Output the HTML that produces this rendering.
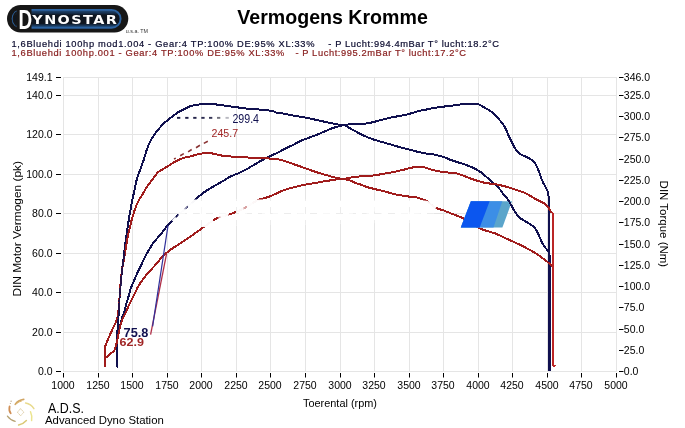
<!DOCTYPE html><html><head><meta charset="utf-8"><title>Vermogens Kromme</title><style>html,body{margin:0;padding:0;background:#fff;width:685px;height:428px;overflow:hidden}svg{display:block}text{font-family:"Liberation Sans",Arial,sans-serif}</style></head><body><svg width="685" height="428" viewBox="0 0 685 428"><rect width="685" height="428" fill="#fff"/><g><rect x="7" y="5" width="121.3" height="27.5" rx="13.75" fill="#171717"/><linearGradient id="lg" gradientUnits="userSpaceOnUse" x1="0" y1="9" x2="0" y2="29"><stop offset="0" stop-color="#25548a"/><stop offset="0.12" stop-color="#1d4068"/><stop offset="0.22" stop-color="#152b46"/><stop offset="0.3" stop-color="#0f1620"/><stop offset="0.72" stop-color="#0f1620"/><stop offset="0.82" stop-color="#183556"/><stop offset="0.92" stop-color="#22507f"/><stop offset="1" stop-color="#25548a"/></linearGradient><rect x="12.6" y="9.9" width="108" height="17.8" rx="8.9" fill="url(#lg)" stroke="#2b62a0" stroke-width="1.9"/><rect x="16.5" y="6.5" width="15" height="24.5" fill="#171717"/><path d="M16.5 12 A9 9 0 0 0 16.5 25.6" fill="none" stroke="#171717" stroke-width="1.5"/><text transform="translate(18.4 29.3) scale(0.68 1)" font-size="27.8" font-weight="bold" fill="#fff">D</text><text x="32.3" y="24" font-size="12" font-weight="bold" fill="#fff" style="font-family:DejaVu Sans,sans-serif" letter-spacing="1.2" textLength="86" lengthAdjust="spacingAndGlyphs">YNOSTAR</text><text x="125.8" y="33" font-size="6" fill="#333" textLength="22.3" lengthAdjust="spacingAndGlyphs">u.s.a. TM</text></g><text x="237.3" y="23.9" font-size="20.5" font-weight="bold" fill="#000" textLength="190.5" lengthAdjust="spacingAndGlyphs">Vermogens Kromme</text><text x="11.5" y="46.9" font-size="9.3" fill="#0c0c30" stroke="#0c0c30" stroke-width="0.2" textLength="303" lengthAdjust="spacing">1,6Bluehdi 100hp mod1.004 - Gear:4 TP:100% DE:95% XL:33%</text><text x="328.3" y="46.9" font-size="9.3" fill="#0c0c30" stroke="#0c0c30" stroke-width="0.2" textLength="170.7" lengthAdjust="spacing">- P Lucht:994.4mBar T° lucht:18.2°C</text><text x="11.5" y="55.6" font-size="9.3" fill="#8a2222" stroke="#8a2222" stroke-width="0.2" textLength="272.9" lengthAdjust="spacing">1,6Bluehdi 100hp.001 - Gear:4 TP:100% DE:95% XL:33%</text><text x="295.4" y="55.6" font-size="9.3" fill="#8a2222" stroke="#8a2222" stroke-width="0.2" textLength="170.6" lengthAdjust="spacing">- P Lucht:995.2mBar T° lucht:17.2°C</text><path d="M63.5 77V372 M98.5 77V372 M132.5 77V372 M167.5 77V372 M201.5 77V372 M236.5 77V372 M270.5 77V372 M305.5 77V372 M340.5 77V372 M374.5 77V372 M409.5 77V372 M443.5 77V372 M478.5 77V372 M512.5 77V372 M547.5 77V372 M581.5 77V372 M616.5 77V372 M63 77.5H617 M63 95.5H617 M63 134.5H617 M63 174.5H617 M63 213.5H617 M63 253.5H617 M63 292.5H617 M63 332.5H617 M63 371.5H617" stroke="#e5e5e5" stroke-width="1" fill="none"/><path d="M63.5 373V377.5 M98.5 373V377.5 M132.5 373V377.5 M167.5 373V377.5 M201.5 373V377.5 M236.5 373V377.5 M270.5 373V377.5 M305.5 373V377.5 M340.5 373V377.5 M374.5 373V377.5 M409.5 373V377.5 M443.5 373V377.5 M478.5 373V377.5 M512.5 373V377.5 M547.5 373V377.5 M581.5 373V377.5 M616.5 373V377.5 M56 77.5H61 M56 95.5H61 M56 134.5H61 M56 174.5H61 M56 213.5H61 M56 253.5H61 M56 292.5H61 M56 332.5H61 M56 371.5H61 M619 77.5H623.5 M619 95.5H623.5 M619 116.5H623.5 M619 137.5H623.5 M619 159.5H623.5 M619 180.5H623.5 M619 201.5H623.5 M619 222.5H623.5 M619 244.5H623.5 M619 265.5H623.5 M619 286.5H623.5 M619 307.5H623.5 M619 329.5H623.5 M619 350.5H623.5 M619 371.5H623.5" stroke="#000" stroke-width="1" fill="none"/><g font-size="10.5" fill="#000"><text x="52.5" y="81.3" text-anchor="end">149.1</text><text x="52.5" y="99.3" text-anchor="end">140.0</text><text x="52.5" y="138.3" text-anchor="end">120.0</text><text x="52.5" y="178.3" text-anchor="end">100.0</text><text x="52.5" y="217.3" text-anchor="end">80.0</text><text x="52.5" y="257.3" text-anchor="end">60.0</text><text x="52.5" y="296.3" text-anchor="end">40.0</text><text x="52.5" y="336.3" text-anchor="end">20.0</text><text x="52.5" y="375.3" text-anchor="end">0.0</text><text x="623.8" y="81.3">346.0</text><text x="623.8" y="99.3">325.0</text><text x="623.8" y="120.3">300.0</text><text x="623.8" y="141.3">275.0</text><text x="623.8" y="163.3">250.0</text><text x="623.8" y="184.3">225.0</text><text x="623.8" y="205.3">200.0</text><text x="623.8" y="226.3">175.0</text><text x="623.8" y="248.3">150.0</text><text x="623.8" y="269.3">125.0</text><text x="623.8" y="290.3">100.0</text><text x="623.8" y="311.3">75.0</text><text x="623.8" y="333.3">50.0</text><text x="623.8" y="354.3">25.0</text><text x="623.8" y="375.3">0.0</text><text x="63.0" y="388.6" text-anchor="middle">1000</text><text x="98.0" y="388.6" text-anchor="middle">1250</text><text x="132.0" y="388.6" text-anchor="middle">1500</text><text x="167.0" y="388.6" text-anchor="middle">1750</text><text x="201.0" y="388.6" text-anchor="middle">2000</text><text x="236.0" y="388.6" text-anchor="middle">2250</text><text x="270.0" y="388.6" text-anchor="middle">2500</text><text x="305.0" y="388.6" text-anchor="middle">2750</text><text x="340.0" y="388.6" text-anchor="middle">3000</text><text x="374.0" y="388.6" text-anchor="middle">3250</text><text x="409.0" y="388.6" text-anchor="middle">3500</text><text x="443.0" y="388.6" text-anchor="middle">3750</text><text x="478.0" y="388.6" text-anchor="middle">4000</text><text x="512.0" y="388.6" text-anchor="middle">4250</text><text x="547.0" y="388.6" text-anchor="middle">4500</text><text x="581.0" y="388.6" text-anchor="middle">4750</text><text x="616.0" y="388.6" text-anchor="middle">5000</text></g><text x="303" y="407" font-size="10.5" fill="#000" textLength="74" lengthAdjust="spacingAndGlyphs">Toerental (rpm)</text><text transform="translate(21 296.6) rotate(-90)" font-size="10.5" fill="#000" textLength="135.6" lengthAdjust="spacingAndGlyphs">DIN Motor Vermogen (pk)</text><text transform="translate(660 180.6) rotate(90)" font-size="10.5" fill="#000" textLength="86.6" lengthAdjust="spacingAndGlyphs">DIN Torque (Nm)</text><g fill="none" stroke-width="2" stroke-linejoin="round" stroke-linecap="round" shape-rendering="crispEdges"><path d="M117.40 366.60 L117.40 332.00 L119.50 328.50 C119.92 326.75 121.18 320.78 122.00 318.00 C122.82 315.22 123.72 314.00 124.40 311.80 C125.08 309.60 125.42 307.33 126.10 304.80 C126.78 302.27 127.72 299.33 128.50 296.60 C129.28 293.87 129.93 290.93 130.80 288.40 C131.67 285.87 132.63 283.93 133.70 281.40 C134.77 278.87 135.93 275.93 137.20 273.20 C138.47 270.47 140.23 267.22 141.30 265.00 C142.37 262.78 142.60 261.93 143.60 259.90 C144.60 257.87 145.75 255.55 147.30 252.80 C148.85 250.05 151.62 245.40 152.90 243.40 C154.18 241.40 153.72 242.32 155.00 240.80 C156.28 239.28 158.42 236.95 160.60 234.30 C162.78 231.65 165.92 227.40 168.10 224.90 C170.28 222.40 172.15 220.85 173.70 219.30 C175.25 217.75 175.53 217.32 177.40 215.60 C179.27 213.88 182.08 211.50 184.90 209.00 C187.72 206.50 191.55 203.05 194.30 200.60 C197.05 198.15 199.15 196.10 201.40 194.30 C203.65 192.50 205.45 191.30 207.80 189.80 C210.15 188.30 212.92 186.80 215.50 185.30 C218.08 183.80 220.72 182.30 223.30 180.80 C225.88 179.30 228.43 177.58 231.00 176.30 C233.57 175.02 236.13 174.27 238.70 173.10 C241.27 171.93 243.83 170.68 246.40 169.30 C248.97 167.92 251.53 166.30 254.10 164.80 C256.67 163.30 259.23 161.70 261.80 160.30 C264.37 158.90 267.30 157.47 269.50 156.40 C271.70 155.33 272.57 155.08 275.00 153.90 C277.43 152.72 281.07 150.82 284.10 149.30 C287.13 147.78 290.17 146.32 293.20 144.80 C296.23 143.28 298.75 141.72 302.30 140.20 C305.85 138.68 310.95 137.08 314.50 135.70 C318.05 134.32 320.57 133.17 323.60 131.90 C326.63 130.63 329.92 129.12 332.70 128.10 C335.48 127.08 338.03 126.37 340.30 125.80 C342.57 125.23 343.85 125.03 346.30 124.70 C348.75 124.37 351.65 124.00 355.00 123.80 C358.35 123.60 363.15 123.83 366.40 123.50 C369.65 123.17 371.78 122.45 374.50 121.80 C377.22 121.15 379.70 120.37 382.70 119.60 C385.70 118.83 389.22 117.88 392.50 117.20 C395.78 116.52 399.12 116.18 402.40 115.50 C405.68 114.82 409.22 113.92 412.20 113.10 C415.18 112.28 418.17 111.15 420.30 110.60 C422.43 110.05 422.58 110.27 425.00 109.80 C427.42 109.33 431.53 108.35 434.80 107.80 C438.07 107.25 441.33 106.92 444.60 106.50 C447.87 106.08 451.12 105.72 454.40 105.30 C457.68 104.88 461.02 104.28 464.30 104.00 C467.58 103.72 471.73 103.53 474.10 103.60 C476.47 103.67 476.60 103.65 478.50 104.40 C480.40 105.15 483.23 106.80 485.50 108.10 C487.77 109.40 490.18 110.70 492.10 112.20 C494.02 113.70 495.37 115.33 497.00 117.10 C498.63 118.87 500.57 121.12 501.90 122.80 C503.23 124.48 503.93 125.17 505.00 127.20 C506.07 129.23 507.20 132.60 508.30 135.00 C509.40 137.40 510.48 139.38 511.60 141.60 C512.72 143.82 513.88 146.45 515.00 148.30 C516.12 150.15 517.02 151.52 518.30 152.70 C519.58 153.88 521.03 154.55 522.70 155.40 C524.37 156.25 526.45 156.77 528.30 157.80 C530.15 158.83 532.33 160.05 533.80 161.60 C535.27 163.15 536.17 165.25 537.10 167.10 C538.03 168.95 538.65 170.67 539.40 172.70 C540.15 174.73 540.68 177.08 541.60 179.30 C542.52 181.52 543.87 183.97 544.90 186.00 C545.93 188.03 547.13 189.28 547.80 191.50 C548.47 193.72 548.72 198.00 548.90 199.30 L548.90 370.50" stroke="#10104f"/><path d="M117.40 366.60 L117.40 332.00 L118.50 316.90 C118.65 314.08 119.10 305.03 119.40 300.00 C119.70 294.97 119.85 291.72 120.30 286.70 C120.75 281.68 121.48 275.18 122.10 269.90 C122.72 264.62 123.47 259.42 124.00 255.00 C124.53 250.58 124.77 247.50 125.30 243.40 C125.83 239.30 126.55 234.75 127.20 230.40 C127.85 226.05 128.48 221.65 129.20 217.30 C129.92 212.95 130.67 208.63 131.50 204.30 C132.33 199.97 133.28 195.58 134.20 191.30 C135.12 187.02 135.95 182.35 137.00 178.60 C138.05 174.85 139.33 172.07 140.50 168.80 C141.67 165.53 142.93 162.25 144.00 159.00 C145.07 155.75 145.80 152.33 146.90 149.30 C148.00 146.27 149.37 143.22 150.60 140.80 C151.83 138.38 152.90 136.82 154.30 134.80 C155.70 132.78 157.43 130.57 159.00 128.70 C160.57 126.83 162.30 125.00 163.70 123.60 C165.10 122.20 165.85 121.55 167.40 120.30 C168.95 119.05 171.13 117.50 173.00 116.10 C174.87 114.70 176.85 112.98 178.60 111.90 C180.35 110.82 181.40 110.60 183.50 109.60 C185.60 108.60 188.63 106.73 191.20 105.90 C193.77 105.07 196.53 104.97 198.90 104.60 C201.27 104.23 202.48 103.72 205.40 103.70 C208.32 103.68 213.22 104.18 216.40 104.50 C219.58 104.82 221.78 105.22 224.50 105.60 C227.22 105.98 229.97 106.43 232.70 106.80 C235.43 107.17 238.17 107.45 240.90 107.80 C243.63 108.15 246.37 108.63 249.10 108.90 C251.83 109.17 254.58 109.20 257.30 109.40 C260.02 109.60 262.95 109.85 265.40 110.10 C267.85 110.35 270.08 110.47 272.00 110.90 C273.92 111.33 274.88 112.23 276.90 112.70 C278.92 113.17 281.38 113.22 284.10 113.70 C286.82 114.18 289.65 114.97 293.20 115.60 C296.75 116.23 301.35 116.73 305.40 117.50 C309.45 118.27 313.47 119.32 317.50 120.20 C321.53 121.08 326.05 122.05 329.60 122.80 C333.15 123.55 336.27 124.25 338.80 124.70 C341.33 125.15 342.78 124.82 344.80 125.50 C346.82 126.18 348.95 127.73 350.90 128.80 C352.85 129.87 353.92 130.57 356.50 131.90 C359.08 133.23 363.40 135.48 366.40 136.80 C369.40 138.12 371.78 138.90 374.50 139.80 C377.22 140.70 379.70 141.33 382.70 142.20 C385.70 143.07 389.22 144.05 392.50 145.00 C395.78 145.95 399.12 147.00 402.40 147.90 C405.68 148.80 409.22 149.65 412.20 150.40 C415.18 151.15 417.58 151.80 420.30 152.40 C423.02 153.00 426.08 153.62 428.50 154.00 C430.92 154.38 432.12 154.13 434.80 154.70 C437.48 155.27 441.78 156.47 444.60 157.40 C447.42 158.33 448.58 159.20 451.70 160.30 C454.82 161.40 459.80 162.80 463.30 164.00 C466.80 165.20 469.78 166.13 472.70 167.50 C475.62 168.87 478.08 170.25 480.80 172.20 C483.52 174.15 486.08 176.65 489.00 179.20 C491.92 181.75 495.93 185.07 498.30 187.50 C500.67 189.93 501.57 191.77 503.20 193.80 C504.83 195.83 506.67 197.63 508.10 199.70 C509.53 201.77 510.57 204.03 511.80 206.20 C513.03 208.37 514.25 210.83 515.50 212.70 C516.75 214.57 517.73 216.00 519.30 217.40 C520.87 218.80 522.88 219.85 524.90 221.10 C526.92 222.35 529.68 223.65 531.40 224.90 C533.12 226.15 534.10 227.20 535.20 228.60 C536.30 230.00 537.07 231.43 538.00 233.30 C538.93 235.17 539.87 237.78 540.80 239.80 C541.73 241.82 542.52 243.68 543.60 245.40 C544.68 247.12 546.37 248.83 547.30 250.10 C548.23 251.37 548.88 252.52 549.20 253.00 L549.90 258.00 L549.90 370.50" stroke="#10104f"/><path d="M105.10 358.20 L114.30 350.60 L116.90 342.20 C117.17 340.78 117.90 336.57 118.50 333.70 C119.10 330.83 119.75 327.62 120.50 325.00 C121.25 322.38 122.07 320.20 123.00 318.00 C123.93 315.80 125.18 313.82 126.10 311.80 C127.02 309.78 127.62 307.85 128.50 305.90 C129.38 303.95 130.33 302.23 131.40 300.10 C132.47 297.97 133.73 295.43 134.90 293.10 C136.07 290.77 137.03 288.45 138.40 286.10 C139.77 283.75 141.35 281.35 143.10 279.00 C144.85 276.65 146.95 274.23 148.90 272.00 C150.85 269.77 152.53 268.15 154.80 265.60 C157.07 263.05 159.97 259.28 162.50 256.70 C165.03 254.12 166.88 252.43 170.00 250.10 C173.12 247.77 177.47 245.18 181.20 242.70 C184.93 240.22 188.35 238.02 192.40 235.20 C196.45 232.38 201.77 228.45 205.50 225.80 C209.23 223.15 212.05 220.85 214.80 219.30 C217.55 217.75 219.20 217.43 222.00 216.50 C224.80 215.57 227.77 215.15 231.60 213.70 C235.43 212.25 240.65 210.05 245.00 207.80 C249.35 205.55 253.53 202.10 257.70 200.20 C261.87 198.30 265.95 197.95 270.00 196.40 C274.05 194.85 278.83 192.22 282.00 190.90 C285.17 189.58 286.67 189.18 289.00 188.50 C291.33 187.82 293.67 187.38 296.00 186.80 C298.33 186.22 300.67 185.48 303.00 185.00 C305.33 184.52 307.67 184.28 310.00 183.90 C312.33 183.52 314.65 183.13 317.00 182.70 C319.35 182.27 321.75 181.70 324.10 181.30 C326.45 180.90 328.77 180.65 331.10 180.30 C333.43 179.95 335.77 179.48 338.10 179.20 C340.43 178.92 343.12 178.87 345.10 178.60 C347.08 178.33 348.02 177.92 350.00 177.60 C351.98 177.28 354.08 177.00 357.00 176.70 C359.92 176.40 364.38 176.03 367.50 175.80 C370.62 175.57 373.17 175.63 375.70 175.30 C378.23 174.97 380.17 174.25 382.70 173.80 C385.23 173.35 388.18 173.10 390.90 172.60 C393.62 172.10 396.47 171.38 399.00 170.80 C401.53 170.22 403.95 169.63 406.10 169.10 C408.25 168.57 409.97 167.98 411.90 167.60 C413.83 167.22 415.75 166.88 417.70 166.80 C419.65 166.72 421.55 166.72 423.60 167.10 C425.65 167.48 428.22 168.57 430.00 169.10 C431.78 169.63 432.02 169.80 434.30 170.30 C436.58 170.80 439.95 171.57 443.70 172.10 C447.45 172.63 453.07 172.72 456.80 173.50 C460.53 174.28 463.30 175.78 466.10 176.80 C468.90 177.82 470.80 178.67 473.60 179.60 C476.40 180.53 479.78 181.68 482.90 182.40 C486.02 183.12 490.28 183.63 492.30 183.90 C494.32 184.17 492.88 183.58 495.00 184.00 C497.12 184.42 501.93 185.57 505.00 186.40 C508.07 187.23 510.73 188.15 513.40 189.00 C516.07 189.85 518.90 190.77 521.00 191.50 C523.10 192.23 523.77 192.25 526.00 193.40 C528.23 194.55 532.17 197.13 534.40 198.40 C536.63 199.67 537.65 200.12 539.40 201.00 C541.15 201.88 543.43 202.68 544.90 203.70 C546.37 204.72 547.33 205.97 548.20 207.10 C549.07 208.23 549.78 209.93 550.10 210.50 L551.50 212.20 L552.50 213.00 L552.60 365.50" stroke="#a01c1c"/><path d="M105.10 366.60 L105.10 346.40 L109.30 336.30 C110.00 334.75 112.23 329.82 113.50 327.00 C114.77 324.18 116.07 322.22 116.90 319.40 C117.73 316.58 118.08 313.33 118.50 310.10 C118.92 306.87 119.10 303.90 119.40 300.00 C119.70 296.10 119.85 291.72 120.30 286.70 C120.75 281.68 121.38 275.10 122.10 269.90 C122.82 264.70 124.02 258.90 124.60 255.50 C125.18 252.10 125.17 252.13 125.60 249.50 C126.03 246.87 126.53 243.20 127.20 239.70 C127.87 236.20 128.73 232.23 129.60 228.50 C130.47 224.77 131.32 221.03 132.40 217.30 C133.48 213.57 135.10 208.82 136.10 206.10 C137.10 203.38 137.32 203.00 138.40 201.00 C139.48 199.00 141.20 196.42 142.60 194.10 C144.00 191.78 145.40 189.20 146.80 187.10 C148.20 185.00 149.60 183.38 151.00 181.50 C152.40 179.62 154.03 177.33 155.20 175.80 C156.37 174.27 156.60 173.47 158.00 172.30 C159.40 171.13 161.72 169.97 163.60 168.80 C165.48 167.63 167.42 166.47 169.30 165.30 C171.18 164.13 173.03 162.85 174.90 161.80 C176.77 160.75 178.63 159.75 180.50 159.00 C182.37 158.25 184.52 157.72 186.10 157.30 C187.68 156.88 188.52 156.87 190.00 156.50 C191.48 156.13 193.10 155.58 195.00 155.10 C196.90 154.62 199.27 153.98 201.40 153.60 C203.53 153.22 205.65 152.75 207.80 152.80 C209.95 152.85 212.15 153.47 214.30 153.90 C216.45 154.33 217.50 154.93 220.70 155.40 C223.90 155.87 229.22 156.37 233.50 156.70 C237.78 157.03 242.97 157.18 246.40 157.40 C249.83 157.62 251.12 157.85 254.10 158.00 C257.08 158.15 260.82 158.15 264.30 158.30 C267.78 158.45 272.25 158.63 275.00 158.90 C277.75 159.17 278.85 159.43 280.80 159.90 C282.75 160.37 284.75 161.05 286.70 161.70 C288.65 162.35 290.55 163.12 292.50 163.80 C294.45 164.48 296.25 165.05 298.40 165.80 C300.55 166.55 303.07 167.47 305.40 168.30 C307.73 169.13 310.07 170.00 312.40 170.80 C314.73 171.60 317.07 172.38 319.40 173.10 C321.73 173.82 324.07 174.42 326.40 175.10 C328.73 175.78 331.45 176.67 333.40 177.20 C335.35 177.73 336.15 177.95 338.10 178.30 C340.05 178.65 343.12 178.93 345.10 179.30 C347.08 179.67 348.22 179.87 350.00 180.50 C351.78 181.13 353.85 182.37 355.80 183.10 C357.75 183.83 359.75 184.22 361.70 184.90 C363.65 185.58 365.37 186.52 367.50 187.20 C369.63 187.88 372.17 188.42 374.50 189.00 C376.83 189.58 379.17 190.12 381.50 190.70 C383.83 191.28 386.35 191.92 388.50 192.50 C390.65 193.08 392.25 193.72 394.40 194.20 C396.55 194.68 399.07 195.02 401.40 195.40 C403.73 195.78 406.07 196.22 408.40 196.50 C410.73 196.78 413.45 196.75 415.40 197.10 C417.35 197.45 418.35 198.02 420.10 198.60 C421.85 199.18 424.17 199.70 425.90 200.60 C427.63 201.50 428.93 202.82 430.50 204.00 C432.07 205.18 433.10 206.62 435.30 207.70 C437.50 208.78 440.75 209.42 443.70 210.50 C446.65 211.58 449.88 212.97 453.00 214.20 C456.12 215.43 459.43 216.43 462.40 217.90 C465.37 219.37 468.00 221.28 470.80 223.00 C473.60 224.72 475.93 226.70 479.20 228.20 C482.47 229.70 487.77 231.15 490.40 232.00 C493.03 232.85 492.98 232.50 495.00 233.30 C497.02 234.10 499.83 235.57 502.50 236.80 C505.17 238.03 507.92 239.28 511.00 240.70 C514.08 242.12 517.83 243.75 521.00 245.30 C524.17 246.85 527.42 248.60 530.00 250.00 C532.58 251.40 534.45 252.38 536.50 253.70 C538.55 255.02 540.47 256.52 542.30 257.90 C544.13 259.28 546.05 260.78 547.50 262.00 C548.95 263.22 550.42 264.67 551.00 265.20 L552.50 266.50 L552.60 365.50 L554.60 365.50" stroke="#a01c1c"/><path d="M552.6 213V365.5H554.6" stroke="#bb2626"/><path d="M117.6 330 C118.3 318 119.2 305 119.6 298 S121.6 275 122.4 268 S124.2 255 124.6 251" stroke="#10104f" stroke-dasharray="2 2" opacity="0.85"/></g><line x1="166.6" y1="253.6" x2="150.6" y2="334.7" stroke="#b03048" stroke-width="1.3"/><line x1="168" y1="225.6" x2="152.6" y2="326.3" stroke="#30309a" stroke-width="1.2"/><rect x="177" y="116.9" width="3.3" height="1.9" fill="#1c1c44"/><rect x="185.2" y="116.9" width="3.3" height="1.9" fill="#1c1c44"/><rect x="193.2" y="116.9" width="3.3" height="1.9" fill="#24244a"/><rect x="201.3" y="116.9" width="3.3" height="1.9" fill="#2c2c50"/><rect x="209" y="116.9" width="3.3" height="1.9" fill="#363656"/><rect x="217" y="116.9" width="3.3" height="1.9" fill="#70707c"/><rect x="225.5" y="116.9" width="3.3" height="1.9" fill="#b8b8c0"/><path d="M174 159L175.8 158.1 M180.2 155.7L183.8 153.6 M188.1 151.8L191.7 149.5 M196 147.7L199.9 145.3 M203.8 143.4L207.8 141.3" stroke="#8a3434" stroke-width="1.6" fill="none"/><text x="232.4" y="122.8" font-size="12" fill="#10104f" textLength="26.6" lengthAdjust="spacingAndGlyphs">299.4</text><text x="211.5" y="136.8" font-size="11" fill="#a02525" textLength="26.6" lengthAdjust="spacingAndGlyphs">245.7</text><text x="123.6" y="336.8" font-size="12.4" font-weight="bold" fill="#10104f" textLength="24.8" lengthAdjust="spacingAndGlyphs">75.8</text><text x="119.6" y="346.2" font-size="11.4" font-weight="bold" fill="#a02525" textLength="24.4" lengthAdjust="spacingAndGlyphs">62.9</text><clipPath id="wm"><polygon points="191,199.5 257,199.5 424,200.5 428,201 436.5,206.5 430,222 300,224.5 240,225.5 207,227.5 176,222.5 171.5,220.5"/></clipPath><polygon points="191,199.5 257,199.5 424,200.5 428,201 436.5,206.5 430,222 300,224.5 240,225.5 207,227.5 176,222.5 171.5,220.5" fill="#fff" fill-opacity="0.97"/><path d="M63.5 77V372 M98.5 77V372 M132.5 77V372 M167.5 77V372 M201.5 77V372 M236.5 77V372 M270.5 77V372 M305.5 77V372 M340.5 77V372 M374.5 77V372 M409.5 77V372 M443.5 77V372 M478.5 77V372 M512.5 77V372 M547.5 77V372 M581.5 77V372 M616.5 77V372 M63 77.5H617 M63 95.5H617 M63 134.5H617 M63 174.5H617 M63 213.5H617 M63 253.5H617 M63 292.5H617 M63 332.5H617 M63 371.5H617" stroke="#ececec" stroke-width="1" fill="none" clip-path="url(#wm)" stroke-dasharray="7 6"/><clipPath id="peek"><rect x="213" y="216.5" width="7.5" height="5"/><rect x="228.5" y="211" width="7.5" height="6"/><rect x="243.5" y="205" width="3.5" height="4.5"/><rect x="175.5" y="214" width="3.5" height="3.5"/><rect x="184.3" y="205.8" width="3.5" height="3.5"/></clipPath><g clip-path="url(#peek)" fill="none" stroke-width="2" shape-rendering="crispEdges"><path d="M117.40 366.60 L117.40 332.00 L119.50 328.50 C119.92 326.75 121.18 320.78 122.00 318.00 C122.82 315.22 123.72 314.00 124.40 311.80 C125.08 309.60 125.42 307.33 126.10 304.80 C126.78 302.27 127.72 299.33 128.50 296.60 C129.28 293.87 129.93 290.93 130.80 288.40 C131.67 285.87 132.63 283.93 133.70 281.40 C134.77 278.87 135.93 275.93 137.20 273.20 C138.47 270.47 140.23 267.22 141.30 265.00 C142.37 262.78 142.60 261.93 143.60 259.90 C144.60 257.87 145.75 255.55 147.30 252.80 C148.85 250.05 151.62 245.40 152.90 243.40 C154.18 241.40 153.72 242.32 155.00 240.80 C156.28 239.28 158.42 236.95 160.60 234.30 C162.78 231.65 165.92 227.40 168.10 224.90 C170.28 222.40 172.15 220.85 173.70 219.30 C175.25 217.75 175.53 217.32 177.40 215.60 C179.27 213.88 182.08 211.50 184.90 209.00 C187.72 206.50 191.55 203.05 194.30 200.60 C197.05 198.15 199.15 196.10 201.40 194.30 C203.65 192.50 205.45 191.30 207.80 189.80 C210.15 188.30 212.92 186.80 215.50 185.30 C218.08 183.80 220.72 182.30 223.30 180.80 C225.88 179.30 228.43 177.58 231.00 176.30 C233.57 175.02 236.13 174.27 238.70 173.10 C241.27 171.93 243.83 170.68 246.40 169.30 C248.97 167.92 251.53 166.30 254.10 164.80 C256.67 163.30 259.23 161.70 261.80 160.30 C264.37 158.90 267.30 157.47 269.50 156.40 C271.70 155.33 272.57 155.08 275.00 153.90 C277.43 152.72 281.07 150.82 284.10 149.30 C287.13 147.78 290.17 146.32 293.20 144.80 C296.23 143.28 298.75 141.72 302.30 140.20 C305.85 138.68 310.95 137.08 314.50 135.70 C318.05 134.32 320.57 133.17 323.60 131.90 C326.63 130.63 329.92 129.12 332.70 128.10 C335.48 127.08 338.03 126.37 340.30 125.80 C342.57 125.23 343.85 125.03 346.30 124.70 C348.75 124.37 351.65 124.00 355.00 123.80 C358.35 123.60 363.15 123.83 366.40 123.50 C369.65 123.17 371.78 122.45 374.50 121.80 C377.22 121.15 379.70 120.37 382.70 119.60 C385.70 118.83 389.22 117.88 392.50 117.20 C395.78 116.52 399.12 116.18 402.40 115.50 C405.68 114.82 409.22 113.92 412.20 113.10 C415.18 112.28 418.17 111.15 420.30 110.60 C422.43 110.05 422.58 110.27 425.00 109.80 C427.42 109.33 431.53 108.35 434.80 107.80 C438.07 107.25 441.33 106.92 444.60 106.50 C447.87 106.08 451.12 105.72 454.40 105.30 C457.68 104.88 461.02 104.28 464.30 104.00 C467.58 103.72 471.73 103.53 474.10 103.60 C476.47 103.67 476.60 103.65 478.50 104.40 C480.40 105.15 483.23 106.80 485.50 108.10 C487.77 109.40 490.18 110.70 492.10 112.20 C494.02 113.70 495.37 115.33 497.00 117.10 C498.63 118.87 500.57 121.12 501.90 122.80 C503.23 124.48 503.93 125.17 505.00 127.20 C506.07 129.23 507.20 132.60 508.30 135.00 C509.40 137.40 510.48 139.38 511.60 141.60 C512.72 143.82 513.88 146.45 515.00 148.30 C516.12 150.15 517.02 151.52 518.30 152.70 C519.58 153.88 521.03 154.55 522.70 155.40 C524.37 156.25 526.45 156.77 528.30 157.80 C530.15 158.83 532.33 160.05 533.80 161.60 C535.27 163.15 536.17 165.25 537.10 167.10 C538.03 168.95 538.65 170.67 539.40 172.70 C540.15 174.73 540.68 177.08 541.60 179.30 C542.52 181.52 543.87 183.97 544.90 186.00 C545.93 188.03 547.13 189.28 547.80 191.50 C548.47 193.72 548.72 198.00 548.90 199.30 L548.90 370.50" stroke="#10104f"/><path d="M105.10 358.20 L114.30 350.60 L116.90 342.20 C117.17 340.78 117.90 336.57 118.50 333.70 C119.10 330.83 119.75 327.62 120.50 325.00 C121.25 322.38 122.07 320.20 123.00 318.00 C123.93 315.80 125.18 313.82 126.10 311.80 C127.02 309.78 127.62 307.85 128.50 305.90 C129.38 303.95 130.33 302.23 131.40 300.10 C132.47 297.97 133.73 295.43 134.90 293.10 C136.07 290.77 137.03 288.45 138.40 286.10 C139.77 283.75 141.35 281.35 143.10 279.00 C144.85 276.65 146.95 274.23 148.90 272.00 C150.85 269.77 152.53 268.15 154.80 265.60 C157.07 263.05 159.97 259.28 162.50 256.70 C165.03 254.12 166.88 252.43 170.00 250.10 C173.12 247.77 177.47 245.18 181.20 242.70 C184.93 240.22 188.35 238.02 192.40 235.20 C196.45 232.38 201.77 228.45 205.50 225.80 C209.23 223.15 212.05 220.85 214.80 219.30 C217.55 217.75 219.20 217.43 222.00 216.50 C224.80 215.57 227.77 215.15 231.60 213.70 C235.43 212.25 240.65 210.05 245.00 207.80 C249.35 205.55 253.53 202.10 257.70 200.20 C261.87 198.30 265.95 197.95 270.00 196.40 C274.05 194.85 278.83 192.22 282.00 190.90 C285.17 189.58 286.67 189.18 289.00 188.50 C291.33 187.82 293.67 187.38 296.00 186.80 C298.33 186.22 300.67 185.48 303.00 185.00 C305.33 184.52 307.67 184.28 310.00 183.90 C312.33 183.52 314.65 183.13 317.00 182.70 C319.35 182.27 321.75 181.70 324.10 181.30 C326.45 180.90 328.77 180.65 331.10 180.30 C333.43 179.95 335.77 179.48 338.10 179.20 C340.43 178.92 343.12 178.87 345.10 178.60 C347.08 178.33 348.02 177.92 350.00 177.60 C351.98 177.28 354.08 177.00 357.00 176.70 C359.92 176.40 364.38 176.03 367.50 175.80 C370.62 175.57 373.17 175.63 375.70 175.30 C378.23 174.97 380.17 174.25 382.70 173.80 C385.23 173.35 388.18 173.10 390.90 172.60 C393.62 172.10 396.47 171.38 399.00 170.80 C401.53 170.22 403.95 169.63 406.10 169.10 C408.25 168.57 409.97 167.98 411.90 167.60 C413.83 167.22 415.75 166.88 417.70 166.80 C419.65 166.72 421.55 166.72 423.60 167.10 C425.65 167.48 428.22 168.57 430.00 169.10 C431.78 169.63 432.02 169.80 434.30 170.30 C436.58 170.80 439.95 171.57 443.70 172.10 C447.45 172.63 453.07 172.72 456.80 173.50 C460.53 174.28 463.30 175.78 466.10 176.80 C468.90 177.82 470.80 178.67 473.60 179.60 C476.40 180.53 479.78 181.68 482.90 182.40 C486.02 183.12 490.28 183.63 492.30 183.90 C494.32 184.17 492.88 183.58 495.00 184.00 C497.12 184.42 501.93 185.57 505.00 186.40 C508.07 187.23 510.73 188.15 513.40 189.00 C516.07 189.85 518.90 190.77 521.00 191.50 C523.10 192.23 523.77 192.25 526.00 193.40 C528.23 194.55 532.17 197.13 534.40 198.40 C536.63 199.67 537.65 200.12 539.40 201.00 C541.15 201.88 543.43 202.68 544.90 203.70 C546.37 204.72 547.33 205.97 548.20 207.10 C549.07 208.23 549.78 209.93 550.10 210.50 L551.50 212.20 L552.50 213.00 L552.60 365.50" stroke="#a01c1c"/></g><text x="300" y="222" font-size="28" font-weight="bold" font-style="italic" fill="#fff" fill-opacity="0.6" text-anchor="middle" textLength="250" lengthAdjust="spacingAndGlyphs">DYNOSTAR</text><polygon points="470.9,201.2 512,201.2 502.4,227.4 460.8,227.4" fill="#5ba5cb"/><polygon points="470.9,201.2 502.3,201.2 493.5,227.4 460.8,227.4" fill="#3c8ee6"/><polygon points="470.9,201.2 489.6,201.2 479.7,227.4 460.8,227.4" fill="#0b56ef"/><clipPath id="corner"><rect x="506" y="196" width="10" height="12"/></clipPath><path d="M117.40 366.60 L117.40 332.00 L118.50 316.90 C118.65 314.08 119.10 305.03 119.40 300.00 C119.70 294.97 119.85 291.72 120.30 286.70 C120.75 281.68 121.48 275.18 122.10 269.90 C122.72 264.62 123.47 259.42 124.00 255.00 C124.53 250.58 124.77 247.50 125.30 243.40 C125.83 239.30 126.55 234.75 127.20 230.40 C127.85 226.05 128.48 221.65 129.20 217.30 C129.92 212.95 130.67 208.63 131.50 204.30 C132.33 199.97 133.28 195.58 134.20 191.30 C135.12 187.02 135.95 182.35 137.00 178.60 C138.05 174.85 139.33 172.07 140.50 168.80 C141.67 165.53 142.93 162.25 144.00 159.00 C145.07 155.75 145.80 152.33 146.90 149.30 C148.00 146.27 149.37 143.22 150.60 140.80 C151.83 138.38 152.90 136.82 154.30 134.80 C155.70 132.78 157.43 130.57 159.00 128.70 C160.57 126.83 162.30 125.00 163.70 123.60 C165.10 122.20 165.85 121.55 167.40 120.30 C168.95 119.05 171.13 117.50 173.00 116.10 C174.87 114.70 176.85 112.98 178.60 111.90 C180.35 110.82 181.40 110.60 183.50 109.60 C185.60 108.60 188.63 106.73 191.20 105.90 C193.77 105.07 196.53 104.97 198.90 104.60 C201.27 104.23 202.48 103.72 205.40 103.70 C208.32 103.68 213.22 104.18 216.40 104.50 C219.58 104.82 221.78 105.22 224.50 105.60 C227.22 105.98 229.97 106.43 232.70 106.80 C235.43 107.17 238.17 107.45 240.90 107.80 C243.63 108.15 246.37 108.63 249.10 108.90 C251.83 109.17 254.58 109.20 257.30 109.40 C260.02 109.60 262.95 109.85 265.40 110.10 C267.85 110.35 270.08 110.47 272.00 110.90 C273.92 111.33 274.88 112.23 276.90 112.70 C278.92 113.17 281.38 113.22 284.10 113.70 C286.82 114.18 289.65 114.97 293.20 115.60 C296.75 116.23 301.35 116.73 305.40 117.50 C309.45 118.27 313.47 119.32 317.50 120.20 C321.53 121.08 326.05 122.05 329.60 122.80 C333.15 123.55 336.27 124.25 338.80 124.70 C341.33 125.15 342.78 124.82 344.80 125.50 C346.82 126.18 348.95 127.73 350.90 128.80 C352.85 129.87 353.92 130.57 356.50 131.90 C359.08 133.23 363.40 135.48 366.40 136.80 C369.40 138.12 371.78 138.90 374.50 139.80 C377.22 140.70 379.70 141.33 382.70 142.20 C385.70 143.07 389.22 144.05 392.50 145.00 C395.78 145.95 399.12 147.00 402.40 147.90 C405.68 148.80 409.22 149.65 412.20 150.40 C415.18 151.15 417.58 151.80 420.30 152.40 C423.02 153.00 426.08 153.62 428.50 154.00 C430.92 154.38 432.12 154.13 434.80 154.70 C437.48 155.27 441.78 156.47 444.60 157.40 C447.42 158.33 448.58 159.20 451.70 160.30 C454.82 161.40 459.80 162.80 463.30 164.00 C466.80 165.20 469.78 166.13 472.70 167.50 C475.62 168.87 478.08 170.25 480.80 172.20 C483.52 174.15 486.08 176.65 489.00 179.20 C491.92 181.75 495.93 185.07 498.30 187.50 C500.67 189.93 501.57 191.77 503.20 193.80 C504.83 195.83 506.67 197.63 508.10 199.70 C509.53 201.77 510.57 204.03 511.80 206.20 C513.03 208.37 514.25 210.83 515.50 212.70 C516.75 214.57 517.73 216.00 519.30 217.40 C520.87 218.80 522.88 219.85 524.90 221.10 C526.92 222.35 529.68 223.65 531.40 224.90 C533.12 226.15 534.10 227.20 535.20 228.60 C536.30 230.00 537.07 231.43 538.00 233.30 C538.93 235.17 539.87 237.78 540.80 239.80 C541.73 241.82 542.52 243.68 543.60 245.40 C544.68 247.12 546.37 248.83 547.30 250.10 C548.23 251.37 548.88 252.52 549.20 253.00 L549.90 258.00 L549.90 370.50" stroke="#10104f" stroke-width="2" fill="none" shape-rendering="crispEdges" clip-path="url(#corner)"/><g fill="none" stroke-linecap="round" opacity="0.85"><path d="M15.2 404.4 Q18 400.2 23.8 399.4" stroke="#c89548" stroke-width="1.6"/><path d="M16.5 403.6 Q19 401.5 21.5 401" stroke="#d8a850" stroke-width="1"/><path d="M25.6 403.1 Q31 404 33.9 408.7" stroke="#e4d478" stroke-width="1.5"/><path d="M30.5 411.7 Q32.5 416 31.6 420.6" stroke="#e8e07c" stroke-width="1.5"/><path d="M26.4 420.6 Q23.5 424 18.6 425.1" stroke="#d4c060" stroke-width="1.5"/><path d="M7.4 416.1 Q10.5 420.2 15.2 421.4" stroke="#a89058" stroke-width="1.2"/><path d="M9.6 406.4 Q8.6 410.5 10.7 413.2" stroke="#c87c38" stroke-width="1.8"/><circle cx="11.1" cy="401.2" r="0.6" fill="#a08050" stroke="none"/><circle cx="10.3" cy="403.6" r="0.5" fill="#a08050" stroke="none"/><path d="M20.6 408.7 L23.8 412.2 L20.6 415.8 L17.4 412.2 Z" stroke="#c8b070" stroke-width="0.7" stroke-dasharray="1 1.2"/></g><text x="48" y="412.8" font-size="14" fill="#000" textLength="36" lengthAdjust="spacingAndGlyphs">A.D.S.</text><text x="45" y="424" font-size="10.5" fill="#000" textLength="118.8" lengthAdjust="spacingAndGlyphs">Advanced Dyno Station</text></svg></body></html>
